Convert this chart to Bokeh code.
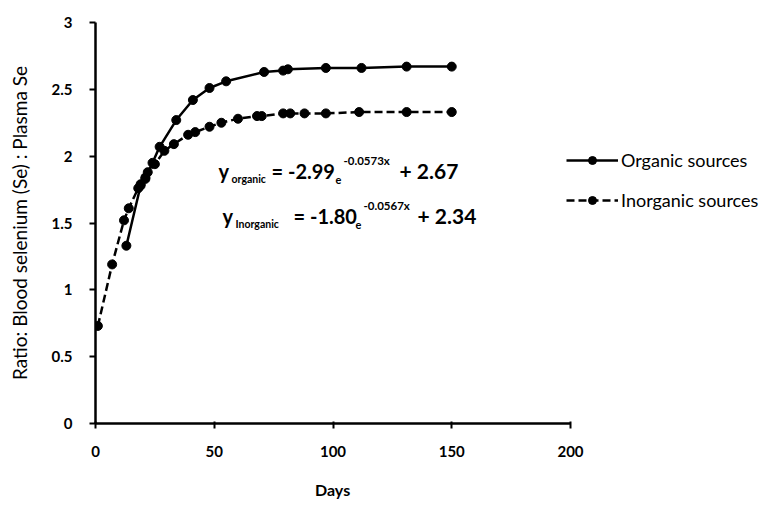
from bokeh.plotting import figure
from bokeh.models import Range1d, Label, Legend, LegendItem, FixedTicker, Title
from bokeh.embed import file_html
from bokeh.resources import INLINE

# ---- data ----
organic_days = [13, 19, 21, 24, 27, 34, 41, 48, 55, 71, 79, 81, 97, 112, 131, 150]
organic_ratio = [1.33, 1.78, 1.84, 1.95, 2.07, 2.27, 2.42, 2.51, 2.56, 2.63, 2.64, 2.65, 2.66, 2.66, 2.67, 2.67]

inorganic_days = [1, 7, 12, 14, 18, 19, 21, 22, 25, 29, 33, 39, 42, 48, 53, 60, 68, 70, 79, 82, 88, 97, 111, 131, 150]
inorganic_ratio = [0.73, 1.19, 1.52, 1.61, 1.76, 1.79, 1.83, 1.88, 1.94, 2.04, 2.09, 2.16, 2.18, 2.22, 2.25, 2.28, 2.30, 2.30, 2.32, 2.32, 2.32, 2.32, 2.33, 2.33, 2.33]

x_ticks = [0, 50, 100, 150, 200]
y_ticks = [0, 0.5, 1, 1.5, 2, 2.5, 3]
y_tick_labels = {0: "0", 0.5: "0.5", 1: "1", 1.5: "1.5", 2: "2", 2.5: "2.5", 3: "3"}

series_names = ["Organic sources", "Inorganic sources"]
x_title = "Days"
y_title = "Ratio: Blood selenium (Se) : Plasma Se"

FONT = "Lato"

W, H = 764, 520
FL, FT, FR, FB = 95, 22, 570, 423   # axis area edges in page pixels (x 0..200, y 0..3)
X_MAX = 200
# the frame runs on to the right edge so the legend can sit beside the axes
x_end = X_MAX * (W - FL) / (FR - FL)

p = figure(width=W, height=H, output_backend="svg", toolbar_location=None,
           x_range=Range1d(0, x_end), y_range=Range1d(0, 3),
           min_border_left=FL, min_border_right=0, min_border_top=FT, min_border_bottom=H - FB)
p.outline_line_color = None
p.xgrid.visible = False
p.ygrid.visible = False
p.background_fill_color = "white"
p.border_fill_color = "white"

# axes
for ax in (p.xaxis[0], p.yaxis[0]):
    ax.axis_line_color = "black"
    ax.axis_line_width = 2.5
    ax.major_tick_line_color = "black"
    ax.major_tick_line_width = 2
    ax.minor_tick_line_color = None
    ax.major_label_text_font = FONT
    ax.major_label_text_font_style = "bold"
    ax.major_label_text_font_size = "15px"
    ax.major_label_text_color = "black"
    ax.axis_label_text_font = FONT
    ax.axis_label_text_color = "black"

p.xaxis.bounds = (0, X_MAX)
p.xaxis.ticker = FixedTicker(ticks=x_ticks)
p.yaxis.ticker = FixedTicker(ticks=y_ticks)
p.yaxis.major_label_overrides = y_tick_labels
p.xaxis.major_tick_in = 2
p.xaxis.major_tick_out = 5
p.yaxis.major_tick_in = 0
p.yaxis.major_tick_out = 6
p.xaxis.major_label_standoff = 17
p.yaxis.major_label_standoff = 17
p.yaxis.axis_label = y_title
p.yaxis.axis_label_text_font_style = "normal"
p.yaxis.axis_label_text_font_size = "19px"
p.yaxis.axis_label_standoff = 18

# x-axis title, centred under the 0..200 axis line
days_title = Title(text=x_title, align="left", offset=(FR - FL) / 2 - 18, standoff=36,
                   text_font=FONT, text_font_style="bold", text_font_size="16px",
                   text_color="black")
p.add_layout(days_title, "below")

# series
l1 = p.line(organic_days, organic_ratio, line_color="black", line_width=2.5)
s1 = p.scatter(organic_days, organic_ratio, size=9, fill_color="black", line_color="black")
l2 = p.line(inorganic_days, inorganic_ratio, line_color="black", line_width=2.5, line_dash="8 4")
s2 = p.scatter(inorganic_days, inorganic_ratio, size=9, fill_color="black", line_color="black")

# legend: rows centred near page y 162 and 200, starting at page x 566
legend = Legend(items=[LegendItem(label=series_names[0], renderers=[l1, s1]),
                       LegendItem(label=series_names[1], renderers=[l2, s2])],
                location=(566 - FL, FB - 211), orientation="vertical",
                padding=0, margin=0, spacing=18, glyph_width=52, glyph_height=20,
                label_height=20, label_standoff=3,
                label_text_font=FONT, label_text_font_size="18px", label_text_color="black",
                background_fill_alpha=0, border_line_color=None)
p.add_layout(legend, "center")

# equation annotations (page px converted to frame-relative screen units)
def put(txt, px, py, size):
    p.add_layout(Label(x=px - FL, y=FB - py, x_units="screen", y_units="screen", text=txt,
                       text_font=FONT, text_font_style="bold", text_font_size=size,
                       text_color="black", text_align="left", text_baseline="middle"))

put("y", 218, 170, "20px")
put("organic", 231, 178, "10.5px")
put("= -2.99", 271, 170, "20px")
put("e", 335, 179, "11px")
put("-0.0573x", 343, 160, "11.5px")
put("+ 2.67", 399, 170, "21px")

put("y", 222, 215, "20px")
put("Inorganic", 235, 223, "10.5px")
put("= -1.80", 293, 215, "20px")
put("e", 355, 224, "11px")
put("-0.0567x", 363, 205, "11.5px")
put("+ 2.34", 417, 215, "21px")

open("out.html", "w").write(file_html(p, INLINE))
